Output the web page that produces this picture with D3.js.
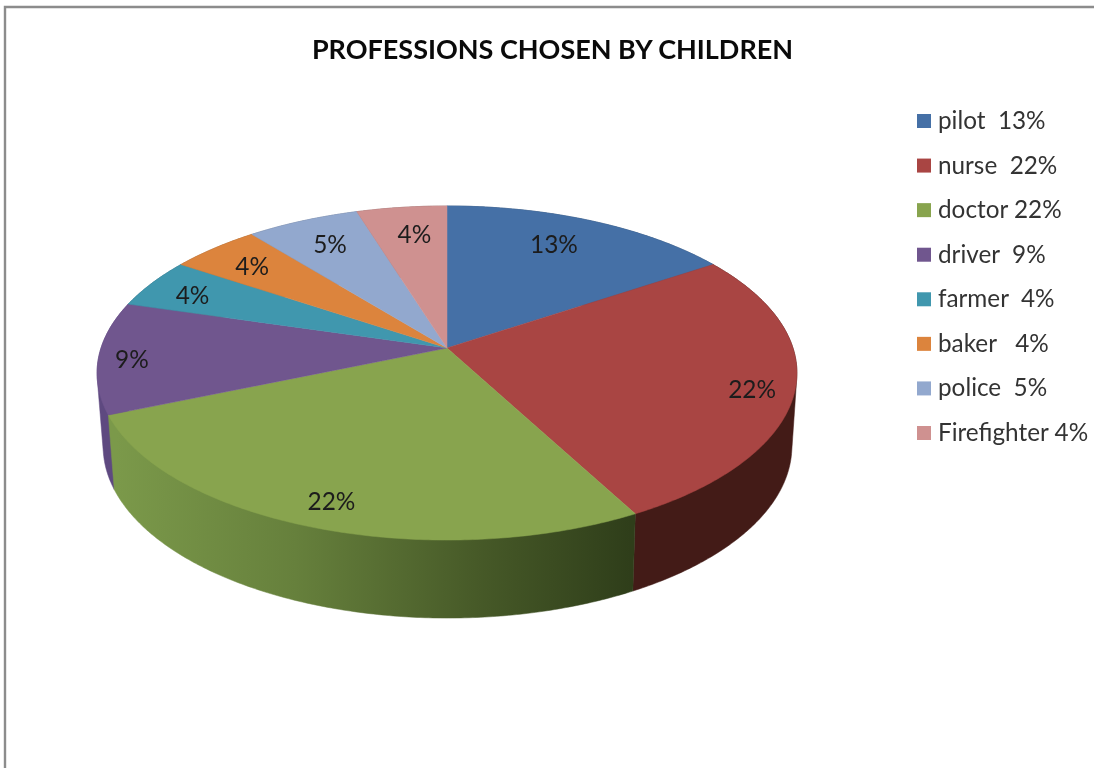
<!DOCTYPE html>
<html>
<head>
<meta charset="utf-8">
<script src="https://cdn.jsdelivr.net/npm/d3@7"></script>
<style>
html,body{margin:0;padding:0;background:#fff;overflow:hidden}
svg{display:block;filter:blur(.45px)}
text{font-family:Lato,"Open Sans",sans-serif;white-space:pre}
</style>
</head>
<body>
<svg id="chart" width="1094" height="768"></svg>
<script>
const title = "PROFESSIONS CHOSEN BY CHILDREN";
const categories = ["pilot","nurse","doctor","driver","farmer","baker","police","Firefighter"];
const values = [13,22,22,9,4,4,5,4];
const legendLabels = ["pilot  13%","nurse  22%","doctor 22%","driver  9%","farmer  4%","baker   4%","police  5%","Firefighter 4%"];
const colors = ["#4570a6","#a94543","#88a44e","#70568e","#4097ae","#dc843d","#92a8ce","#cf9190"];
const sideColors = ["#2a4566","#431b17","#54682f","#5e4980","#2a6272","#8c5426","#5d6b84","#835c5b"];

// layout only: how far along each radius the label sits, and a small nudge
const labelRadius = [.76,.88,.876,.905,.855,.82,.79,.76];
const labelNudgeX = [-6,0,0,0,0,-1,0,3];
const labelNudgeY = [-4,6,0,4,4,2,0,-3];

const svg = d3.select("#chart");
const W = 1094, H = 768;

// perspective projection of the pie discs
const K = 0.1497;
const top_ = {cx:447, cy:348, a:346, b:163.3};
const bot_ = {cx:447.5, cy:420.5, a:340.5, b:168};
function project(d, ang, r){
  const u = r*Math.sin(ang), v = r*Math.cos(ang), w = 1 + K*v;
  return [d.cx + d.a*u/w, d.cy - d.b*v/w];
}

const pie = d3.pie().sort(null).value(d=>d)(values);
const line = d3.line();
function arcAngles(p, step){
  const n = Math.max(2, Math.ceil((p.endAngle-p.startAngle)/step));
  return d3.range(n+1).map(i=>p.startAngle+(p.endAngle-p.startAngle)*i/n);
}

// border
svg.append("path")
  .attr("d", `M5,${H} V7 H${W}`)
  .attr("fill","none").attr("stroke","#8c8c8c").attr("stroke-width",2.4);

// title
svg.append("text").attr("x",552.5).attr("y",59)
  .attr("text-anchor","middle")
  .attr("font-size",27).attr("font-weight",700).attr("fill","#0a0a0a")
  .text(title);

const defs = svg.append("defs");
const grad = defs.append("linearGradient").attr("id","doctorSide")
  .attr("gradientUnits","userSpaceOnUse")
  .attr("x1",116).attr("x2",630).attr("y1",0).attr("y2",0);
[[0,"#7b994a"],[.35,"#66803c"],[.7,"#475a28"],[1,"#2f3e1a"]].forEach(s=>
  grad.append("stop").attr("offset",s[0]).attr("stop-color",s[1]));

// side wall: back slices first, so nearer ones overlap them.
// Each wall is the hull of its two rims; the inner part is covered by the top face.
const order = pie.map((p,i)=>({p,i}))
  .sort((a,b)=>d3.descending(Math.min(...arcAngles(a.p,.05).map(Math.cos)),
                              Math.min(...arcAngles(b.p,.05).map(Math.cos))));
const sideG = svg.append("g");
order.forEach(({p,i})=>{
  const fill = i===2 ? "url(#doctorSide)" : sideColors[i];
  const ang = arcAngles(p,.01);
  const hull = d3.polygonHull(ang.map(a=>project(top_,a,1)).concat(ang.map(a=>project(bot_,a,1))));
  sideG.append("path").attr("d",line(hull)+"Z").attr("fill",fill)
    .attr("stroke",fill).attr("stroke-width",.5);
});

// top face
const topG = svg.append("g");
pie.forEach((p,i)=>{
  const pts = [project(top_,0,0)].concat(arcAngles(p,.01).map(a=>project(top_,a,1)));
  topG.append("path").attr("d",line(pts)+"Z").attr("fill",colors[i])
    .attr("stroke",colors[i]).attr("stroke-width",.5);
});

// percentage labels
svg.append("g").selectAll("text").data(pie).join("text")
  .attr("x",(p,i)=>project(top_,(p.startAngle+p.endAngle)/2,labelRadius[i])[0]+labelNudgeX[i])
  .attr("y",(p,i)=>project(top_,(p.startAngle+p.endAngle)/2,labelRadius[i])[1]+8+labelNudgeY[i])
  .attr("text-anchor","middle")
  .attr("font-size",24.4).attr("fill","#1c1c1c")
  .text(p=>p.value+"%");

// legend
const ly = d3.scalePoint().domain(categories).range([121,433]);
const lg = svg.append("g").selectAll("g").data(categories).join("g")
  .attr("transform",d=>`translate(917,${ly(d)})`);
lg.append("rect").attr("x",0).attr("y",-7).attr("width",14).attr("height",14)
  .attr("fill",(d,i)=>colors[i]);
lg.append("text").attr("x",21).attr("y",8)
  .attr("font-size",24.3).attr("fill","#333")
  .text((d,i)=>legendLabels[i]);
</script>
</body>
</html>
